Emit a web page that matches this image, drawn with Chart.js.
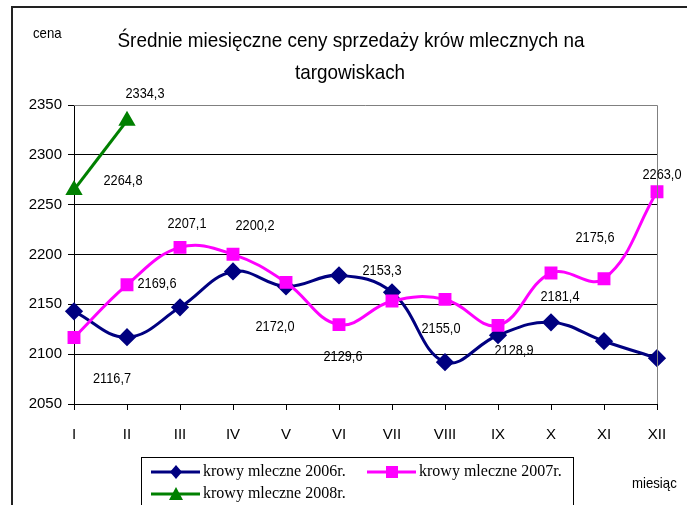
<!DOCTYPE html>
<html>
<head>
<meta charset="utf-8">
<script src="https://cdn.jsdelivr.net/npm/chart.js@4"></script>
<style>
  html, body { margin: 0; padding: 0; background: #fff; }
  #wrap { width: 687px; height: 505px; position: relative; }
</style>
</head>
<body>
<div id="wrap"><canvas id="cowChart" width="687" height="505"></canvas></div>
<script>
// months and prices
const months = ["I", "II", "III", "IV", "V", "VI", "VII", "VIII", "IX", "X", "XI", "XII"];
const prices2006 = [2143, 2117, 2147, 2183, 2168, 2179, 2162, 2092, 2119, 2132, 2113, 2096];
const prices2007 = [2116.7, 2169.6, 2207.1, 2200.2, 2172.0, 2129.6, 2153.3, 2155.0, 2128.9, 2181.4, 2175.6, 2263.0];
const prices2008 = [2264.8, 2334.3, null, null, null, null, null, null, null, null, null, null];
const yTicks = [2050, 2100, 2150, 2200, 2250, 2300, 2350];

const seriesNames = ["krowy mleczne 2006r.", "krowy mleczne 2007r.", "krowy mleczne 2008r."];
const titleLines = ["Średnie miesięczne ceny sprzedaży krów mlecznych na", "targowiskach"];

// where Excel put each value label, relative to its point
const labelShift2007 = [[38, 41], [30, -1], [7, -24], [22, -28], [-11, 44], [4, 32],
                        [-10, -30], [-4, 30], [16, 25], [9, 24], [-9, -41], [5, -17]];
const labelShift2008 = [[49, -9], [18, -27]];

const fmt = v => v.toFixed(1).replace(".", ",");

// draw text squeezed horizontally (the original uses a narrow-looking face)
function narrowText(c, txt, x, y, sx) {
  c.save();
  c.translate(x, y);
  c.scale(sx, 1);
  c.fillText(txt, 0, 0);
  c.restore();
}

const extras = {
  id: "extras",
  beforeDraw(chart) {
    const c = chart.ctx;
    c.save();
    c.fillStyle = "#fff";
    c.fillRect(0, 0, chart.width, chart.height);
    c.strokeStyle = "#222";
    c.lineWidth = 2;
    c.strokeRect(12, 7, 700, 520);
    c.restore();
  },
  afterDatasetsDraw(chart) {
    const c = chart.ctx;
    const a = chart.chartArea;
    c.save();
    // plot frame top/right in grey
    c.strokeStyle = "#808080";
    c.lineWidth = 1;
    c.beginPath();
    c.moveTo(a.left, a.top + 0.5);
    c.lineTo(a.right + 0.5, a.top + 0.5);
    c.lineTo(a.right + 0.5, a.bottom);
    c.stroke();

    // value labels
    c.fillStyle = "#000";
    c.font = "15px 'Liberation Sans', Arial, sans-serif";
    c.textAlign = "center";
    c.textBaseline = "middle";
    const m07 = chart.getDatasetMeta(1).data;
    m07.forEach((p, i) => {
      narrowText(c, fmt(prices2007[i]), p.x + labelShift2007[i][0], p.y + labelShift2007[i][1], 0.85);
    });
    const m08 = chart.getDatasetMeta(2).data;
    labelShift2008.forEach((s, i) => {
      narrowText(c, fmt(prices2008[i]), m08[i].x + s[0], m08[i].y + s[1], 0.85);
    });

    // title and axis captions
    c.font = "21px 'Liberation Sans', Arial, sans-serif";
    const w1 = c.measureText(titleLines[0]).width;
    const sq = 467 / w1;
    narrowText(c, titleLines[0], 351, 41, sq);
    narrowText(c, titleLines[1], 350, 73, sq);
    c.font = "15px 'Liberation Sans', Arial, sans-serif";
    c.textAlign = "left";
    narrowText(c, "cena", 33, 34, 0.88);
    narrowText(c, "miesiąc", 632, 484, 0.88);

    // legend box
    c.strokeStyle = "#000";
    c.lineWidth = 1;
    c.strokeRect(141.5, 457.5, 432, 60);
    const ds = chart.data.datasets;
    const items = [[151, 472, 0], [367, 472, 1], [151, 494, 2]];
    c.font = "16px 'Liberation Serif', 'Times New Roman', serif";
    items.forEach(([x, y, k]) => {
      const d = ds[k];
      c.strokeStyle = d.borderColor;
      c.lineWidth = 3;
      c.beginPath();
      c.moveTo(x, y);
      c.lineTo(x + 49, y);
      c.stroke();
      c.fillStyle = d.borderColor;
      const mx = x + 25;
      c.beginPath();
      if (d.pointStyle === "rectRot") {
        c.moveTo(mx, y - 7); c.lineTo(mx + 6, y); c.lineTo(mx, y + 7); c.lineTo(mx - 6, y);
      } else if (d.pointStyle === "rect") {
        c.rect(mx - 6, y - 6, 12, 12);
      } else {
        c.moveTo(mx, y - 7); c.lineTo(mx + 7, y + 6); c.lineTo(mx - 7, y + 6);
      }
      c.closePath();
      c.fill();
      c.fillStyle = "#000";
      c.textAlign = "left";
      c.fillText(seriesNames[k], x + 52, y);
    });
    c.restore();
  }
};

const ctx = document.getElementById("cowChart").getContext("2d");
new Chart(ctx, {
  type: "line",
  data: {
    labels: months,
    datasets: [
      {
        label: seriesNames[0], data: prices2006, order: 2,
        borderColor: "#000080", backgroundColor: "#000080",
        pointStyle: "rectRot", pointRadius: 7, borderWidth: 3, tension: 0.4
      },
      {
        label: seriesNames[1], data: prices2007, order: 1,
        borderColor: "#FF00FF", backgroundColor: "#FF00FF",
        pointStyle: "rect", pointRadius: 7, borderWidth: 3, tension: 0.4
      },
      {
        label: seriesNames[2], data: prices2008, order: 0,
        borderColor: "#008000", backgroundColor: "#008000",
        pointStyle: "triangle", pointRadius: 7, borderWidth: 3, tension: 0.4
      }
    ]
  },
  options: {
    responsive: false,
    animation: false,
    layout: { padding: { top: 105, left: 0, right: 30, bottom: 0 } },
    plugins: { legend: { display: false }, tooltip: { enabled: false } },
    scales: {
      x: {
        offset: false,
        afterFit: s => { s.height = 101; },
        grid: { drawOnChartArea: false, drawTicks: true, tickLength: 6, color: "#000" },
        border: { color: "#000", width: 1 },
        ticks: { color: "#000", padding: 16, maxRotation: 0,
                 font: { family: "'Liberation Sans', Arial, sans-serif", size: 15 } }
      },
      y: {
        min: yTicks[0], max: yTicks[yTicks.length - 1],
        afterFit: s => { s.width = 74; },
        afterBuildTicks: s => { s.ticks = yTicks.map(v => ({ value: v })); },
        grid: { color: c => (c.tick && c.tick.value === 2350 ? "rgba(0,0,0,0)" : "#000"),
                tickColor: "#000", tickLength: 6, lineWidth: 1 },
        border: { color: "#000", width: 1 },
        ticks: { color: "#000", padding: 6, callback: v => String(v),
                 font: { family: "'Liberation Sans', Arial, sans-serif", size: 15 } }
      }
    }
  },
  plugins: [extras]
});
</script>
</body>
</html>
